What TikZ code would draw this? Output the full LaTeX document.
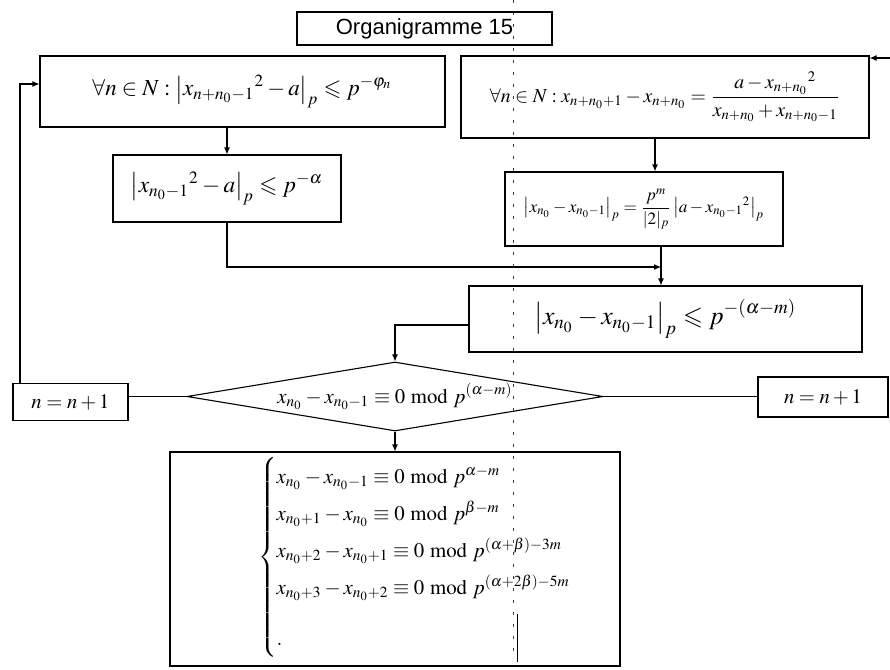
\documentclass[tikz,border=0pt]{standalone}
\usepackage{amssymb}
\usepackage{mathptmx}
\usepackage{fontspec}
\setmainfont{Liberation Serif}
\newfontfamily\titlefont{Liberation Sans}
\usepackage{graphicx}
\usetikzlibrary{arrows.meta,shapes.geometric}
\newcommand\fw[2]{\resizebox{#1pt}{!}{$\displaystyle #2$}}
\begin{document}
\begin{tikzpicture}[x=1pt,y=-1pt,
  box/.style={draw, line width=1.1pt, inner sep=0pt},
  conn/.style={line width=1.1pt},
  arr/.style={conn, -{Latex[length=7pt,width=6pt]}},
  scan/.style={line width=0.8pt, black!75, dash pattern=on 3pt off 9pt},
]
\useasboundingbox (0,0) rectangle (890,669);
% scan artefacts
\draw[scan] (513,0) -- (513,660);
\draw[line width=1pt] (517,614) -- (517,662);
% boxes
\node[box, minimum width=255, minimum height=33] (title) at (424.5,28.5)
  {\titlefont\fontsize{22}{22}\selectfont Organigramme 15};
\node[box, minimum width=405, minimum height=71] (box1) at (242.5,91.5)
  {\fw{300}{\forall n\in N:\left|x_{n+n_0-1}{}^{2}-a\right|_p\leqslant p^{-\varphi_n}}};
\node[box, minimum width=408, minimum height=82] (box2) at (665,97)
  {\fw{350}{\forall n\in N: x_{n+n_0+1}-x_{n+n_0}=\frac{a-x_{n+n_0}{}^{2}}{x_{n+n_0}+x_{n+n_0-1}}}};
\node[box, minimum width=228, minimum height=67] (box3) at (227,188.5)
  {\fw{192}{\left|x_{n_0-1}{}^{2}-a\right|_p\leqslant p^{-\alpha}}};
\node[box, minimum width=278, minimum height=74] (box4) at (644,209)
  {\fw{240}{\left|x_{n_0}-x_{n_0-1}\right|_p=\frac{p^{m}}{|2|_p}\left|a-x_{n_0-1}{}^{2}\right|_p}};
\node[box, minimum width=393, minimum height=66] (box5) at (665.5,319)
  {\fw{262}{\left|x_{n_0}-x_{n_0-1}\right|_p\leqslant p^{-(\alpha-m)}}};
\node[diamond, draw, line width=1.1pt, inner sep=0pt, aspect=6,
  minimum width=416, minimum height=69] (dia) at (395,396.5)
  {\fw{235}{x_{n_0}-x_{n_0-1}\equiv 0\bmod p^{(\alpha-m)}}};
\node[box, minimum width=115, minimum height=37] (ln) at (70.5,402)
  {\fw{78}{n=n+1}};
\node[box, minimum width=130, minimum height=40] (rn) at (823,397)
  {\fw{78}{n=n+1}};
\node[box, minimum width=450, minimum height=214] (bot) at (395,559) {};
\node[anchor=west, inner sep=0pt] (sys) at (258,557)
  {\resizebox{314pt}{!}{$\renewcommand\arraystretch{1.48}\left\{\begin{array}{@{}l@{}}
    x_{n_0}-x_{n_0-1}\equiv 0\bmod p^{\alpha-m}\\
    x_{n_0+1}-x_{n_0}\equiv 0\bmod p^{\beta-m}\\
    x_{n_0+2}-x_{n_0+1}\equiv 0\bmod p^{(\alpha+\beta)-3m}\\
    x_{n_0+3}-x_{n_0+2}\equiv 0\bmod p^{(\alpha+2\beta)-5m}\\[7pt]
    .
  \end{array}\right.$}};
% connectors
\coordinate (tr) at (890,58);
\coordinate (j) at (661,267);
\draw[arr] ([xshift=-50.5pt]ln.north) |- ([yshift=7.5pt]box1.west);
\draw[arr] (box1.south -| box3.north) -- (box3.north);
\draw[arr] (box3.south) |- (j);
\draw[arr] ([xshift=-10pt]box2.south) -- ([xshift=11pt]box4.north);
\draw[arr] ([xshift=17pt]box4.south) -- ([xshift=17pt]box4.south |- box5.north);
\draw[arr] ([yshift=-6pt]box5.west) -| (dia.north);
\draw[conn] (dia.west) -- (dia.west -| ln.east);
\draw[conn] (dia.east) -- (dia.east -| rn.west);
\draw[arr] (dia.south) -- (dia.south |- bot.north);
\draw[arr] (tr) -- (tr -| box2.east);
\end{tikzpicture}
\end{document}
